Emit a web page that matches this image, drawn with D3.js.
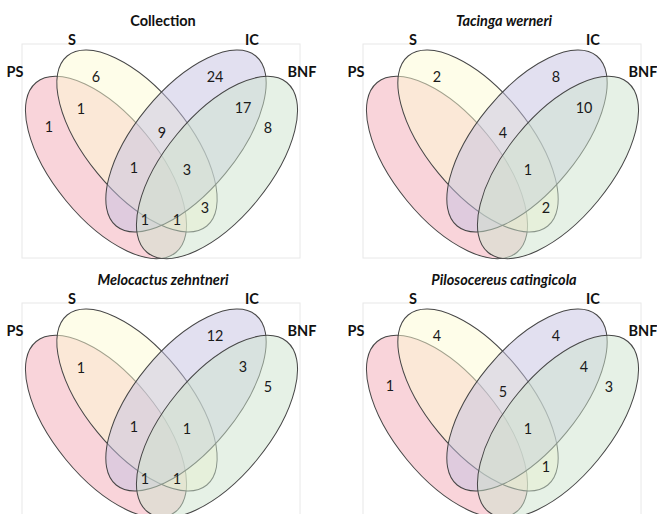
<!DOCTYPE html>
<html>
<head>
<meta charset="utf-8">
<script src="https://cdn.jsdelivr.net/npm/d3@7"></script>
<style>
  html, body { margin: 0; padding: 0; background: #fff; }
  svg { display: block; }
</style>
</head>
<body>
<svg id="chart" width="657" height="514"></svg>
<script>
// ---- data ----
const setNames = ["PS", "S", "IC", "BNF"];
const panelTitles = ["Collection", "Tacinga werneri", "Melocactus zehntneri", "Pilosocereus catingicola"];
const regionKeys = ["PS", "S", "IC", "BNF",
  "PS&S", "PS&IC", "PS&BNF", "S&IC", "S&BNF", "IC&BNF",
  "PS&S&IC", "PS&S&BNF", "PS&IC&BNF", "S&IC&BNF", "PS&S&IC&BNF"];
const collectionCounts   = [1, 6, 24, 8, 1, 0, 0, 9, 3, 17, 1, 1, 1, 3, 0];
const tacingaCounts      = [0, 2, 8, 0, 0, 0, 0, 4, 2, 10, 0, 0, 0, 1, 0];
const melocactusCounts   = [0, 0, 12, 5, 1, 0, 0, 0, 0, 3, 1, 1, 1, 1, 0];
const pilosocereusCounts = [1, 4, 4, 3, 0, 0, 0, 5, 1, 4, 0, 0, 0, 1, 0];
const panelCounts = [collectionCounts, tacingaCounts, melocactusCounts, pilosocereusCounts];

// ---- layout (panel-local units) ----
const setColors = ["#f3a9b5", "#fdfbd3", "#c5c1e1", "#cde3cd"];
const ellipses = [
  {cx: 106, cy: 167.5, a: 110, b: 52, rot: 50.6},
  {cx: 137, cy: 141,   a: 110, b: 51, rot: 50.6},
  {cx: 186, cy: 141,   a: 110, b: 51, rot: -50.6},
  {cx: 217, cy: 167.5, a: 110, b: 52, rot: -50.6}
];
const setLabelPos = [[15, 77, "middle"], [72, 45, "middle"], [252, 45, "middle"], [302, 77, "middle"]];
const regionPos = {
  "PS": [49, 127], "S": [96, 77], "IC": [215, 77], "BNF": [268, 128],
  "PS&S": [81, 109], "PS&IC": [118, 208], "PS&BNF": [161, 242],
  "S&IC": [162, 133], "S&BNF": [205, 208], "IC&BNF": [243, 108],
  "PS&S&IC": [134, 168], "PS&S&BNF": [177, 220], "PS&IC&BNF": [145, 220],
  "S&IC&BNF": [187, 170], "PS&S&IC&BNF": [161, 195]
};
const panelOrigins = [[0, 0], [341, 0], [0, 259], [341, 259]];
const fontFam = "Lato, 'Open Sans', sans-serif";

const svg = d3.select("#chart");

panelTitles.forEach((title, p) => {
  const [ox, oy] = panelOrigins[p];
  const x = d3.scaleLinear().domain([0, 330]).range([ox, ox + 330]);
  const y = d3.scaleLinear().domain([0, 260]).range([oy, oy + 260]);
  const g = svg.append("g");

  // frame
  g.append("rect")
    .attr("x", x(22)).attr("y", y(44))
    .attr("width", x(300) - x(22)).attr("height", y(258) - y(44))
    .attr("fill", "none").attr("stroke", "#e8e8e8").attr("stroke-width", 1);

  // ellipses
  g.selectAll("ellipse").data(ellipses).join("ellipse")
    .attr("cx", d => x(d.cx)).attr("cy", d => y(d.cy))
    .attr("rx", d => x(d.a) - x(0)).attr("ry", d => y(d.b) - y(0))
    .attr("transform", d => `rotate(${d.rot} ${x(d.cx)} ${y(d.cy)})`)
    .attr("fill", (d, i) => setColors[i]).attr("fill-opacity", 0.5)
    .attr("stroke", "#464646").attr("stroke-width", 1);

  // title
  g.append("text")
    .attr("x", x(163)).attr("y", y(26))
    .attr("text-anchor", "middle")
    .attr("font-family", fontFam).attr("font-size", 14.5).attr("font-weight", "bold")
    .attr("font-style", p === 0 ? "normal" : "italic")
    .attr("fill", "#111")
    .text(title);

  // set labels
  setNames.forEach((name, i) => {
    g.append("text")
      .attr("x", x(setLabelPos[i][0])).attr("y", y(setLabelPos[i][1]))
      .attr("text-anchor", setLabelPos[i][2])
      .attr("font-family", fontFam).attr("font-size", 14.5).attr("font-weight", "bold")
      .attr("fill", "#111")
      .text(name);
  });

  // counts
  const counts = panelCounts[p];
  const items = regionKeys.map((k, i) => ({key: k, v: counts[i]})).filter(d => d.v > 0);
  g.selectAll("text.count").data(items).join("text")
    .attr("class", "count")
    .attr("x", d => x(regionPos[d.key][0])).attr("y", d => y(regionPos[d.key][1]))
    .attr("dy", "0.36em")
    .attr("text-anchor", "middle")
    .attr("font-family", fontFam).attr("font-size", 14.4)
    .attr("fill", "#1a1a1a")
    .text(d => d.v);
});
</script>
</body>
</html>
